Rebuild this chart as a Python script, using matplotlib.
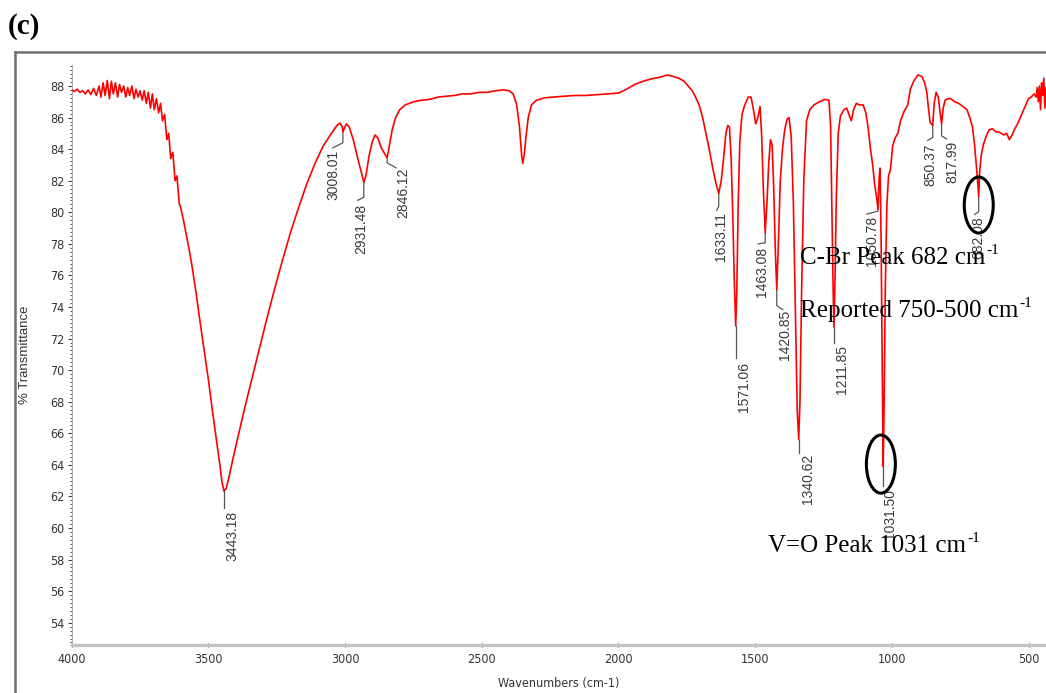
import numpy as np
import matplotlib
matplotlib.use("Agg")
import matplotlib.pyplot as plt
from matplotlib.patches import Ellipse
from matplotlib.lines import Line2D
from matplotlib.ticker import MultipleLocator
from matplotlib import font_manager

plt.rcParams['font.family'] = ['Liberation Sans', 'DejaVu Sans']

# FT-IR spectrum (wavenumber cm-1, % transmittance)
wavenumber = [
    4000, 3990, 3980, 3970, 3960, 3950, 3940, 3930, 3920, 3910, 3900, 3893,
    3885, 3878, 3870, 3862, 3855, 3848, 3840, 3832, 3825, 3818, 3810, 3802,
    3795, 3788, 3780, 3772, 3765, 3757, 3750, 3742, 3735, 3727, 3720, 3712,
    3705, 3698, 3690, 3682, 3675, 3668, 3660, 3652, 3645, 3638, 3630, 3622,
    3615, 3607, 3600, 3590, 3580, 3570, 3560, 3545, 3530, 3515, 3500, 3485,
    3470, 3458, 3450, 3443.18, 3435, 3425, 3410, 3390, 3370, 3350, 3320, 3290,
    3260, 3230, 3200, 3170, 3140, 3110, 3080, 3050, 3030, 3018, 3010, 3008.01,
    3003, 2995, 2985, 2970, 2955, 2940, 2931.48, 2924, 2912, 2900, 2890, 2880,
    2868, 2855, 2846.12, 2838, 2828, 2815, 2800, 2780, 2750, 2720, 2690, 2660,
    2630, 2600, 2570, 2540, 2510, 2480, 2450, 2420, 2400, 2385, 2372, 2362,
    2354, 2350, 2345, 2338, 2330, 2318, 2300, 2270, 2240, 2200, 2160, 2120,
    2080, 2040, 2000, 1970, 1940, 1910, 1880, 1850, 1820, 1800, 1780, 1760,
    1745, 1730, 1718, 1705, 1692, 1680, 1668, 1655, 1643, 1633.11, 1624, 1615,
    1607, 1600, 1594, 1588, 1582, 1576, 1571.06, 1567, 1562, 1556, 1548, 1538,
    1525, 1515, 1505, 1498, 1490, 1482, 1476, 1470, 1463.08, 1457, 1450, 1444,
    1438, 1432, 1426, 1420.85, 1415, 1408, 1400, 1392, 1383, 1376, 1368, 1360,
    1353, 1346, 1340.62, 1336, 1330, 1322, 1312, 1300, 1285, 1265, 1245, 1230,
    1224, 1219, 1215, 1211.85, 1208, 1203, 1196, 1188, 1175, 1165, 1155, 1148,
    1140, 1130, 1118, 1105, 1095, 1087, 1078, 1070, 1063, 1056, 1050.78, 1046,
    1043, 1039, 1035, 1031.5, 1028, 1024, 1018, 1012, 1005, 997, 988, 978,
    968, 955, 942, 932, 920, 905, 890, 880, 872, 866, 860, 855,
    850.37, 845, 838, 830, 824, 817.99, 812, 805, 795, 785, 770, 755,
    740, 725, 715, 705, 697, 690, 684, 682.08, 679, 673, 665, 655,
    645, 632, 620, 610, 600, 590, 580, 570, 560, 550, 540, 530,
    520, 510, 500, 490, 480, 472, 468, 464, 460, 456, 452, 448,
    444, 440, 436,
]
transmittance = [
    87.75, 87.65, 87.8, 87.6, 87.7, 87.5, 87.75, 87.45, 87.85, 87.4, 88.0, 87.3,
    88.2, 87.4, 88.35, 87.2, 88.3, 87.5, 88.2, 87.3, 88.1, 87.6, 88.0, 87.3,
    87.9, 87.4, 88.0, 87.2, 87.8, 87.3, 87.7, 87.1, 87.7, 86.9, 87.6, 86.6,
    87.5, 86.5, 87.2, 86.3, 86.9, 85.8, 86.2, 84.6, 85.0, 83.4, 83.8, 82.0,
    82.3, 80.6, 80.2, 79.4, 78.5, 77.6, 76.6, 74.9, 73.0, 71.2, 69.4, 67.4,
    65.5, 64.0, 62.9, 62.35, 62.5, 63.2, 64.4, 65.9, 67.4, 68.8, 70.9, 73.0,
    75.0, 76.9, 78.7, 80.3, 81.8, 83.1, 84.2, 85.0, 85.5, 85.65, 85.4, 85.1,
    85.3, 85.6, 85.4, 84.6, 83.5, 82.5, 81.9, 82.3, 83.6, 84.5, 84.9, 84.7,
    84.1, 83.7, 83.45, 84.2, 85.2, 86.0, 86.5, 86.8, 87.0, 87.1, 87.15, 87.3,
    87.35, 87.4, 87.5, 87.5, 87.6, 87.6, 87.7, 87.75, 87.7, 87.5, 86.8, 85.4,
    83.6, 83.1, 83.6, 84.8, 86.0, 86.8, 87.1, 87.25, 87.3, 87.35, 87.4, 87.4,
    87.45, 87.5, 87.55, 87.8, 88.1, 88.3, 88.45, 88.55, 88.7, 88.6, 88.5, 88.3,
    88.0, 87.7, 87.3, 86.8, 86.0, 85.0, 84.0, 82.8, 81.8, 81.2, 82.0, 83.5,
    85.0, 85.5, 85.4, 83.5, 80.0, 75.5, 72.8, 75.0, 80.5, 84.5, 86.2, 86.8,
    87.3, 87.3, 86.4, 85.6, 86.0, 86.7, 84.8, 81.5, 78.7, 80.5, 83.2, 84.6,
    84.3, 81.5, 77.5, 75.1, 78.0, 82.0, 84.0, 85.2, 85.9, 86.0, 84.8, 80.5,
    74.0, 67.5, 65.6, 68.0, 75.0, 82.0, 85.8, 86.5, 86.8, 87.0, 87.15, 87.1,
    85.5, 80.0, 75.5, 72.7, 75.5, 81.0, 85.0, 86.1, 86.5, 86.6, 86.1, 85.8,
    86.5, 86.9, 86.8, 86.8, 86.3, 85.4, 84.0, 83.0, 81.8, 81.0, 80.2, 82.3,
    82.8, 78.0, 70.0, 63.9, 68.0, 75.0, 80.5, 82.3, 82.7, 84.2, 84.7, 85.0,
    85.8, 86.4, 86.8, 87.8, 88.3, 88.7, 88.6, 88.2, 87.6, 86.6, 85.7, 85.6,
    85.5, 86.9, 87.6, 87.3, 86.4, 85.6, 86.6, 87.1, 87.2, 87.2, 87.0, 86.9,
    86.7, 86.5, 86.0, 85.4, 84.2, 82.8, 81.5, 81.0, 82.5, 83.6, 84.3, 84.8,
    85.2, 85.3, 85.1, 85.1, 85.0, 84.9, 85.0, 84.6, 84.9, 85.3, 85.6, 86.0,
    86.4, 86.8, 87.2, 87.3, 87.5, 87.3, 87.9, 87.0, 88.0, 86.5, 88.2, 87.4,
    88.5, 86.6, 87.9,
]

# labelled peaks
peak_labels = ['3443.18', '3008.01', '2931.48', '2846.12', '1633.11', '1571.06',
               '1463.08', '1420.85', '1340.62', '1211.85', '1050.78', '1031.50',
               '850.37', '817.99', '682.08']
# leader line: vertical drop, sideways shift, end drop; text centre shift, text top (pixels)
leaders = [(17, 0, 17, 8, 20), (11, -10, 16, -9, 18), (15, -6, 18, -3, 22),
           (5, 9, 10, 16, 10), (13, -2, 17, 2, 19), (32, 0, 32, 8, 36),
           (10, -7, 11, -3, 14), (16, 6, 20, 8, 20), (13, 0, 13, 9, 14),
           (15, 0, 15, 8, 17), (2, -11, 5, -6, 7), (20, 0, 20, 7, 23),
           (12, -5, 15, -2, 18), (12, 5, 15, 11, 17), (15, -4, 18, 0, 20)]

# annotations: main text, left x and baseline y in pixels
notes = ['C-Br Peak 682 cm', 'Reported 750-500 cm', 'V=O Peak 1031 cm']
note_pos = [(800, 264), (800, 317), (768, 552)]

# narrow face for the axis numbers, if one is around
narrow_fp = font_manager.FontProperties(family='DejaVu Sans', stretch='condensed', size=9)
try:
    font_manager.findfont(font_manager.FontProperties(family='Liberation Sans Narrow'),
                          fallback_to_default=False)
    narrow_fp = font_manager.FontProperties(family='Liberation Sans Narrow', size=9.5)
except ValueError:
    pass

W, H = 1046, 693
fig = plt.figure(figsize=(W / 100, H / 100), dpi=100)
ax = fig.add_axes([71.7 / W, 1 - 645 / H, 1 - 71.7 / W, (645 - 65) / H])

ax.plot(wavenumber, transmittance, color='#ff0000', lw=1.2, zorder=3)
ax.set_xlim(4000, 436)
ax.set_ylim(52.59, 89.33)

ax.xaxis.set_major_locator(MultipleLocator(500))
ax.xaxis.set_minor_locator(MultipleLocator(100))
ax.yaxis.set_major_locator(MultipleLocator(2))
ax.yaxis.set_minor_locator(MultipleLocator(0.25))

for s in ['top', 'right']:
    ax.spines[s].set_visible(False)
ax.spines['left'].set_color('#b0b0b0')
ax.spines['left'].set_linewidth(0.8)
ax.spines['bottom'].set_color('#c4c4c4')
ax.spines['bottom'].set_linewidth(2.4)

ax.tick_params(axis='y', which='major', direction='out', length=3, width=0.8,
               color='#444444', labelcolor='#333333', pad=2)
ax.tick_params(axis='y', which='minor', direction='out', length=1.5, width=0.8,
               color='#555555')
ax.tick_params(axis='x', which='major', direction='inout', length=3, width=0.8,
               color='#444444', labelcolor='#333333', pad=4)
ax.tick_params(axis='x', which='minor', direction='inout', length=2, width=0.8,
               color='#555555')
for lab in ax.get_xticklabels() + ax.get_yticklabels():
    lab.set_fontproperties(narrow_fp)

ax.set_xlabel('Wavenumbers (cm-1)', fontproperties=narrow_fp, color='#333333', labelpad=8)
ax.set_ylabel('% Transmittance', fontsize=9.5, color='#333333', labelpad=14)

# peak labels with leader lines
wn_arr = np.array(wavenumber)
tr_arr = np.array(transmittance)
for lab, (d1, dx, d2, tx, ty) in zip(peak_labels, leaders):
    w = float(lab)
    t = tr_arr[np.argmin(np.abs(wn_arr - w))]
    p = ax.transData.transform((w, t))
    pts = p + np.array([[0, 0], [0, -d1], [dx, -d2]])
    dd = ax.transData.inverted().transform(pts)
    ax.plot(dd[:, 0], dd[:, 1], color='#555555', lw=0.9, zorder=2)
    tpos = ax.transData.inverted().transform(p + np.array([tx, -ty]))
    ax.text(tpos[0], tpos[1], lab, rotation=90, ha='center', va='top',
            fontsize=10, color='#3a3a3a', zorder=2)

# circled peaks
ax.add_patch(Ellipse((1040, 64.05), 106, 3.68, fill=False, ec='black', lw=2.2, zorder=5))
ax.add_patch(Ellipse((682, 80.46), 106, 3.55, fill=False, ec='black', lw=2.2, zorder=5))

# outer frame
fig.add_artist(Line2D([15 / W, 15 / W], [0, 1 - 52 / H], color='#707070', lw=1.8))
fig.add_artist(Line2D([15 / W, 1], [1 - 52 / H, 1 - 52 / H], color='#707070', lw=1.8))

serif = 'Liberation Serif'
fig.text(8 / W, 1 - 34 / H, '(c)', family=serif, weight='bold', fontsize=21, va='baseline')

renderer = fig.canvas.get_renderer()
for txt, (x0, y0) in zip(notes, note_pos):
    t = fig.text(x0 / W, 1 - y0 / H, txt, family=serif, fontsize=18, va='baseline')
    x_end = t.get_window_extent(renderer).x1
    fig.text((x_end + 1) / W, 1 - (y0 - 10) / H, '-1', family=serif, fontsize=11,
             va='baseline')

fig.savefig('out.png', dpi=100)
